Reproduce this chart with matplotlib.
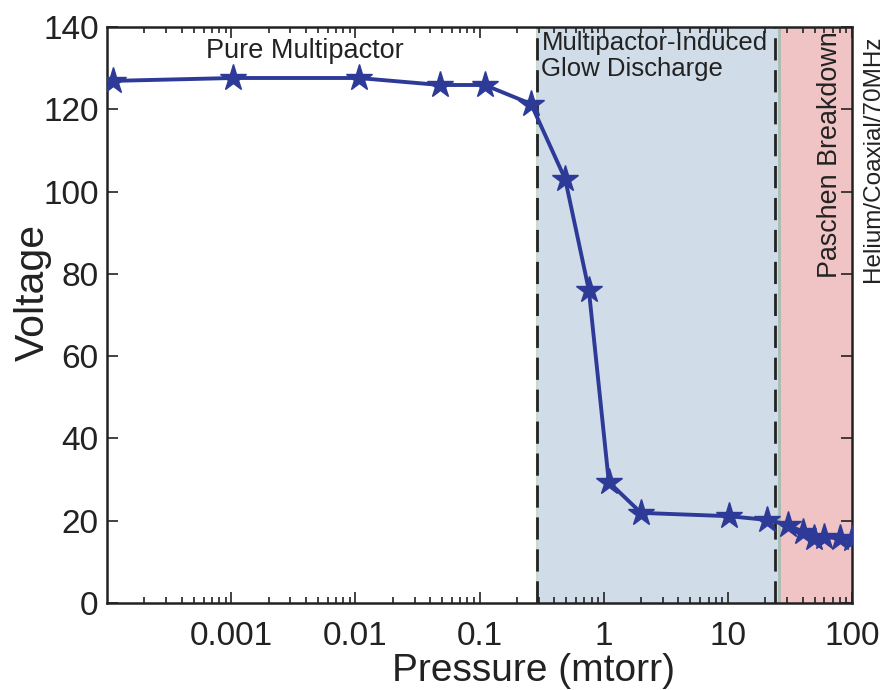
import numpy as np
import matplotlib.pyplot as plt
from matplotlib.ticker import FixedLocator, FixedFormatter, LogLocator, NullFormatter

# данные
pressure = [1.12e-4, 1.04e-3, 0.0106, 0.048, 0.11, 0.26, 0.49, 0.76, 1.1, 2.0,
            10.2, 20.6, 30.5, 40, 49, 59, 80, 100]
voltage = [126.9, 127.6, 127.6, 125.9, 125.9, 121.3, 103, 76, 29.4, 21.9,
           21.1, 20.2, 19.0, 17.3, 15.8, 16.0, 15.8, 15.5]

glow_region = (0.29, 26)
paschen_region = (26, 100)
dash_lines = [0.29, 24]

xtick_vals = [1e-3, 1e-2, 1e-1, 1, 10, 100]
xtick_labels = ['0.001', '0.01', '0.1', '1', '10', '100']
ytick_vals = [0, 20, 40, 60, 80, 100, 120, 140]

plt.rcParams['font.family'] = ['Liberation Sans', 'DejaVu Sans']

fig = plt.figure(figsize=(8.89, 6.9), dpi=100)
ax = fig.add_axes([0.1204, 0.1261, 0.838, 0.8348])

ax.axvspan(*glow_region, color='#d0dde8', zorder=0)
ax.axvspan(*paschen_region, color='#f0c4c4', zorder=0)
ax.axvline(glow_region[0], color='#c8dcc8', lw=1.5, zorder=0.5)
ax.axvline(glow_region[1], color='#a8bcb4', lw=2, zorder=0.5)
for xv in dash_lines:
    ax.axvline(xv, color='#222222', lw=2, ls=(0, (8, 3.5)), zorder=1)

ax.plot(pressure, voltage, color='#2e3a98', lw=2.8, marker='*',
        markersize=20, markeredgecolor='#2e3a98', zorder=3)

ax.set_xscale('log')
ax.set_xlim(1e-4, 100)
ax.set_ylim(0, 140)

ax.xaxis.set_major_locator(FixedLocator(xtick_vals))
ax.xaxis.set_major_formatter(FixedFormatter(xtick_labels))
ax.xaxis.set_minor_locator(LogLocator(base=10, subs=np.arange(2, 10)))
ax.xaxis.set_minor_formatter(NullFormatter())
ax.set_yticks(ytick_vals)

ax.tick_params(which='both', direction='in', top=True, right=True,
               width=1.2, colors='#222222')
ax.tick_params(which='major', length=8, labelsize=24, pad=6)
ax.tick_params(axis='x', which='major', pad=13)
ax.tick_params(which='minor', length=4)
for sp in ax.spines.values():
    sp.set_linewidth(1.8)
    sp.set_color('#222222')

ax.set_xlabel('Pressure (mtorr)', fontsize=28, color='#222222')
ax.set_ylabel('Voltage', fontsize=29.5, color='#222222')
ax.xaxis.set_label_coords(0.573, -0.086)
ax.yaxis.set_label_coords(-0.074, 0.54)

ax.text(0.0039, 134.2, 'Pure Multipactor', fontsize=19.5, ha='center', va='center',
        color='#222222')
ax.text(0.315, 139, 'Multipactor-Induced\nGlow Discharge', fontsize=18.5,
        ha='left', va='top', color='#222222', linespacing=1.1)
ax.text(67, 139, 'Paschen Breakdown', fontsize=19.4, rotation=90,
        ha='center', va='top', color='#222222')
ax.text(1.013, 0.985, 'Helium/Coaxial/70MHz', fontsize=17.5, rotation=90,
        ha='left', va='top', transform=ax.transAxes, color='#222222')

fig.savefig('out.png', dpi=100)
